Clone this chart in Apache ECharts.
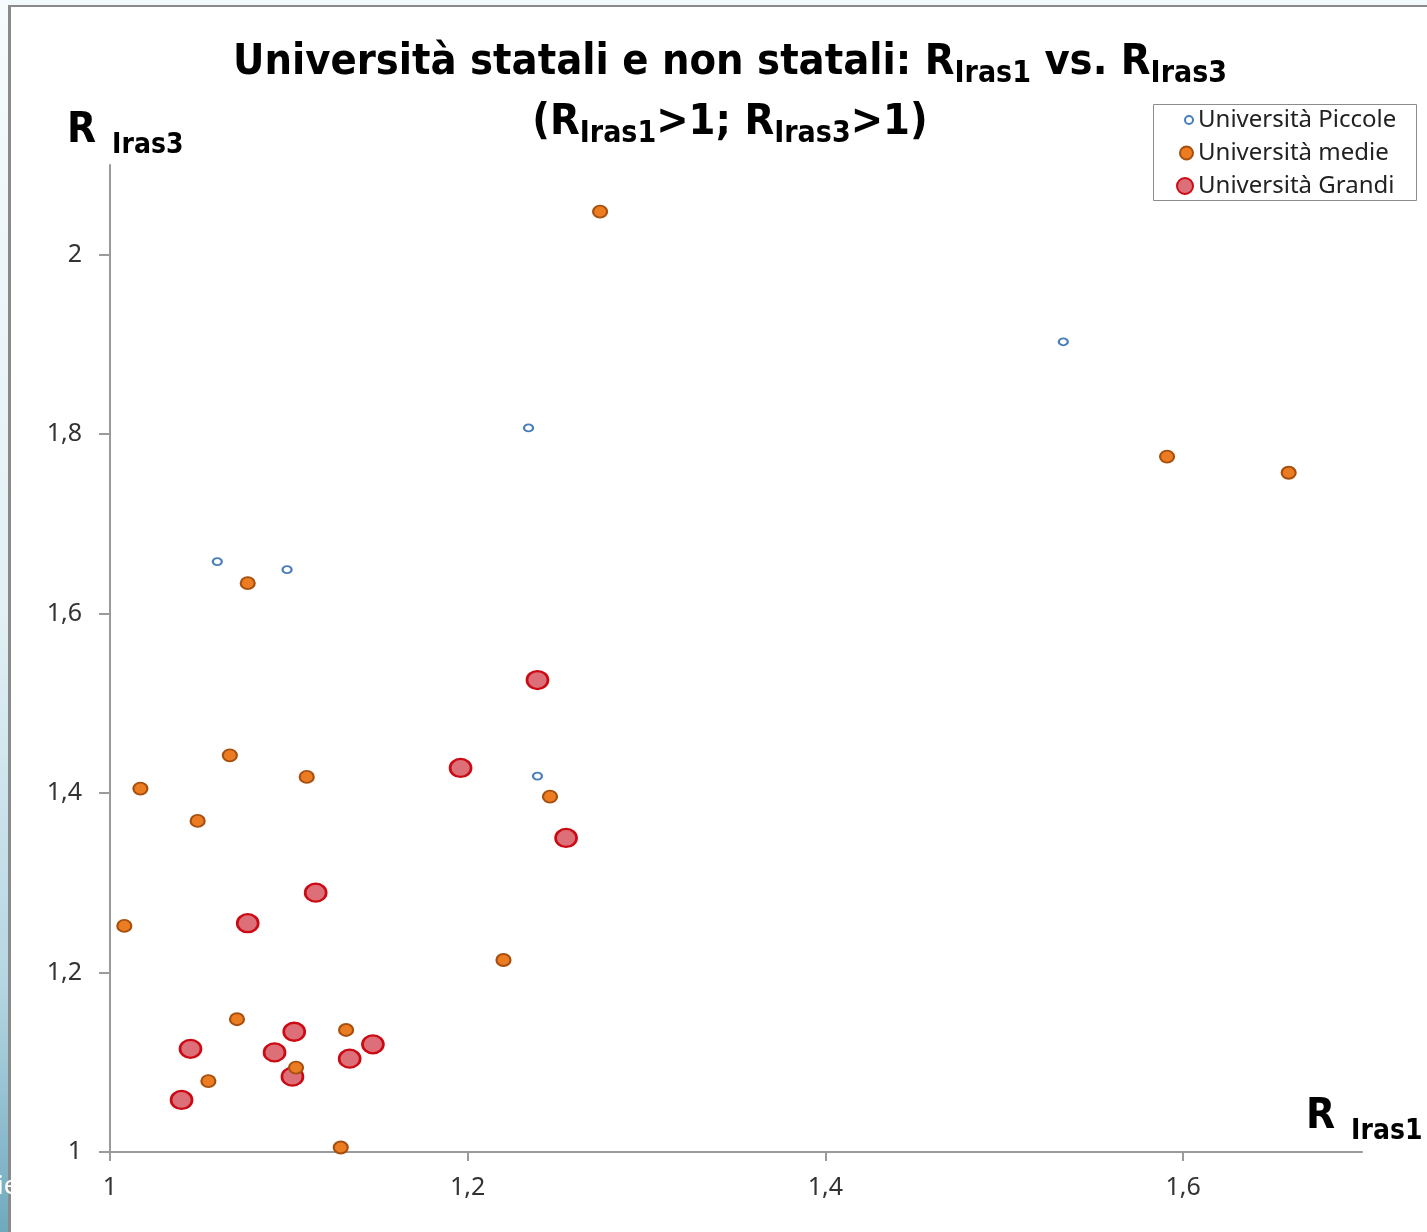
<!DOCTYPE html>
<html>
<head>
<meta charset="utf-8">
<script src="https://cdn.jsdelivr.net/npm/echarts@6/dist/echarts.min.js"></script>
<style>
html,body{margin:0;padding:0;background:#fff;}
#c{width:1427px;height:1232px;}
</style>
</head>
<body>
<div id="c"></div>
<script>
// ---- data ----
var seriesNames = ['Università Piccole', 'Università medie', 'Università Grandi'];
var piccoleX = [1.060, 1.099, 1.234, 1.239, 1.533];
var piccoleY = [1.658, 1.649, 1.807, 1.419, 1.903];
var medieX = [1.274, 1.591, 1.659, 1.077, 1.067, 1.017, 1.110, 1.049, 1.246, 1.008, 1.220, 1.071, 1.132, 1.104, 1.055, 1.129];
var medieY = [2.048, 1.775, 1.757, 1.634, 1.442, 1.405, 1.418, 1.369, 1.396, 1.252, 1.214, 1.148, 1.136, 1.094, 1.079, 1.005];
var grandiX = [1.239, 1.196, 1.255, 1.115, 1.077, 1.045, 1.103, 1.092, 1.102, 1.134, 1.147, 1.040];
var grandiY = [1.526, 1.428, 1.350, 1.289, 1.255, 1.115, 1.134, 1.111, 1.084, 1.104, 1.120, 1.058];
var xTicks = [1, 1.2, 1.4, 1.6];
var yTicks = [1, 1.2, 1.4, 1.6, 1.8, 2];

function pairs(xs, ys) { return xs.map(function (x, i) { return [x, ys[i]]; }); }
function fmt(v) { return String(Math.round(v * 10) / 10).replace('.', ','); }

var titleFont = '"Liberation Sans Narrow", "DejaVu Sans Condensed", "Noto Sans", sans-serif';
var bodyFont = '"Noto Sans", "Open Sans", sans-serif';

var chart = echarts.init(document.getElementById('c'), null, { renderer: 'canvas' });

function legendFor(idx, top, size) {
  return {
    data: [seriesNames[idx]],
    left: 1197 - 5 - size,
    top: top,
    orient: 'vertical',
    padding: 0,
    itemWidth: size,
    itemHeight: size,
    selectedMode: false,
    textStyle: { fontFamily: bodyFont, fontSize: 24, color: '#222' }
  };
}

var nameRich = {
  r: { fontFamily: titleFont, fontWeight: 'bold', fontSize: 42, fill: '#000', lineHeight: 50, verticalAlign: 'middle' },
  i: { fontFamily: titleFont, fontWeight: 'bold', fontSize: 28, fill: '#000', lineHeight: 34, padding: [30, 0, 0, 16], verticalAlign: 'middle' }
};

var option = {
  backgroundColor: '#ffffff',
  animation: false,
  title: {
    text: '{a|Università statali e non statali: R}{s|Iras1}{a| vs. R}{s|Iras3}\n{a|(R}{s|Iras1}{a|>1; R}{s|Iras3}{a|>1)}',
    left: 725,
    textAlign: 'center',
    top: 28,
    textStyle: {
      rich: {
        a: { fontFamily: titleFont, fontWeight: 'bold', fontSize: 43, color: '#000', lineHeight: 60, verticalAlign: 'middle' },
        s: { fontFamily: titleFont, fontWeight: 'bold', fontSize: 30, color: '#000', lineHeight: 40, padding: [22, 0, 0, 0], verticalAlign: 'middle' }
      }
    }
  },
  legend: [
    legendFor(0, 108, 8),
    legendFor(1, 141, 13),
    legendFor(2, 174, 16)
  ],
  grid: { left: 110, right: 65, top: 165, bottom: 80, containLabel: false },
  xAxis: {
    type: 'value',
    min: 1, max: 1.7, interval: 0.2,
    axisLine: { show: true, lineStyle: { color: '#9a9a9a', width: 2 } },
    axisTick: { show: true, length: 9, inside: false, lineStyle: { color: '#9a9a9a', width: 2 }, customValues: xTicks },
    splitLine: { show: false },
    axisLabel: { customValues: xTicks, formatter: fmt, margin: 23, fontFamily: bodyFont, fontSize: 25, color: '#333' }
  },
  yAxis: {
    type: 'value',
    min: 1, max: 2.1, interval: 0.2,
    axisLine: { show: true, lineStyle: { color: '#9a9a9a', width: 2 } },
    axisTick: { show: true, length: 11, lineStyle: { color: '#9a9a9a', width: 2 }, customValues: yTicks },
    splitLine: { show: false },
    axisLabel: { customValues: yTicks, formatter: fmt, margin: 28, fontFamily: bodyFont, fontSize: 25, color: '#333' }
  },
  graphic: [
    { type: 'rect', z: -10, silent: true, shape: { x: 0, y: 0, width: 1427, height: 6 }, style: { fill: '#f2f9fc' } },
    { type: 'rect', z: -10, silent: true, shape: { x: 0, y: 0, width: 9, height: 1232 },
      style: { fill: new echarts.graphic.LinearGradient(0, 0, 0, 1, [
        { offset: 0, color: '#f6fbfd' }, { offset: 0.5, color: '#e2f0f5' },
        { offset: 0.8, color: '#b5d6e2' }, { offset: 1, color: '#6fa9be' }]) } },
    { type: 'line', z: -5, silent: true, shape: { x1: 9.5, y1: 5.5, x2: 9.5, y2: 1232 }, style: { stroke: '#8a8a8a', lineWidth: 3 } },
    { type: 'line', z: -5, silent: true, shape: { x1: 8, y1: 6, x2: 1427, y2: 6 }, style: { stroke: '#8a8a8a', lineWidth: 2 } },
    { type: 'text', z: -4, silent: true, left: -3, top: 1174, style: { text: 'ie', font: '26px "Noto Sans", sans-serif', fill: '#ffffff' } },
    { type: 'rect', z: 1, silent: true, shape: { x: 1153.5, y: 104.5, width: 263, height: 96 }, style: { fill: '#fff', stroke: '#8c8c8c', lineWidth: 1 } },
    { type: 'text', z: 5, silent: true, left: 67, top: 102,
      style: { text: '{r|R}{i|Iras3}', rich: nameRich } },
    { type: 'text', z: 5, silent: true, left: 1306, top: 1088,
      style: { text: '{r|R}{i|Iras1}', rich: nameRich } }
  ],
  series: [
    {
      name: seriesNames[0], type: 'scatter', symbol: 'circle', symbolSize: [9, 7], z: 5,
      itemStyle: { color: '#ffffff', borderColor: '#4a7ebb', borderWidth: 2, opacity: 1 },
      data: pairs(piccoleX, piccoleY)
    },
    {
      name: seriesNames[1], type: 'scatter', symbol: 'circle', symbolSize: [14, 12], z: 4,
      itemStyle: { color: '#ec7c22', borderColor: '#a64f0e', borderWidth: 2, opacity: 1 },
      data: pairs(medieX, medieY)
    },
    {
      name: seriesNames[2], type: 'scatter', symbol: 'circle', symbolSize: [21, 18], z: 3,
      itemStyle: { color: '#dc6f78', borderColor: '#cc0a14', borderWidth: 2.5, opacity: 1 },
      data: pairs(grandiX, grandiY)
    }
  ]
};
chart.setOption(option);
</script>
</body>
</html>
